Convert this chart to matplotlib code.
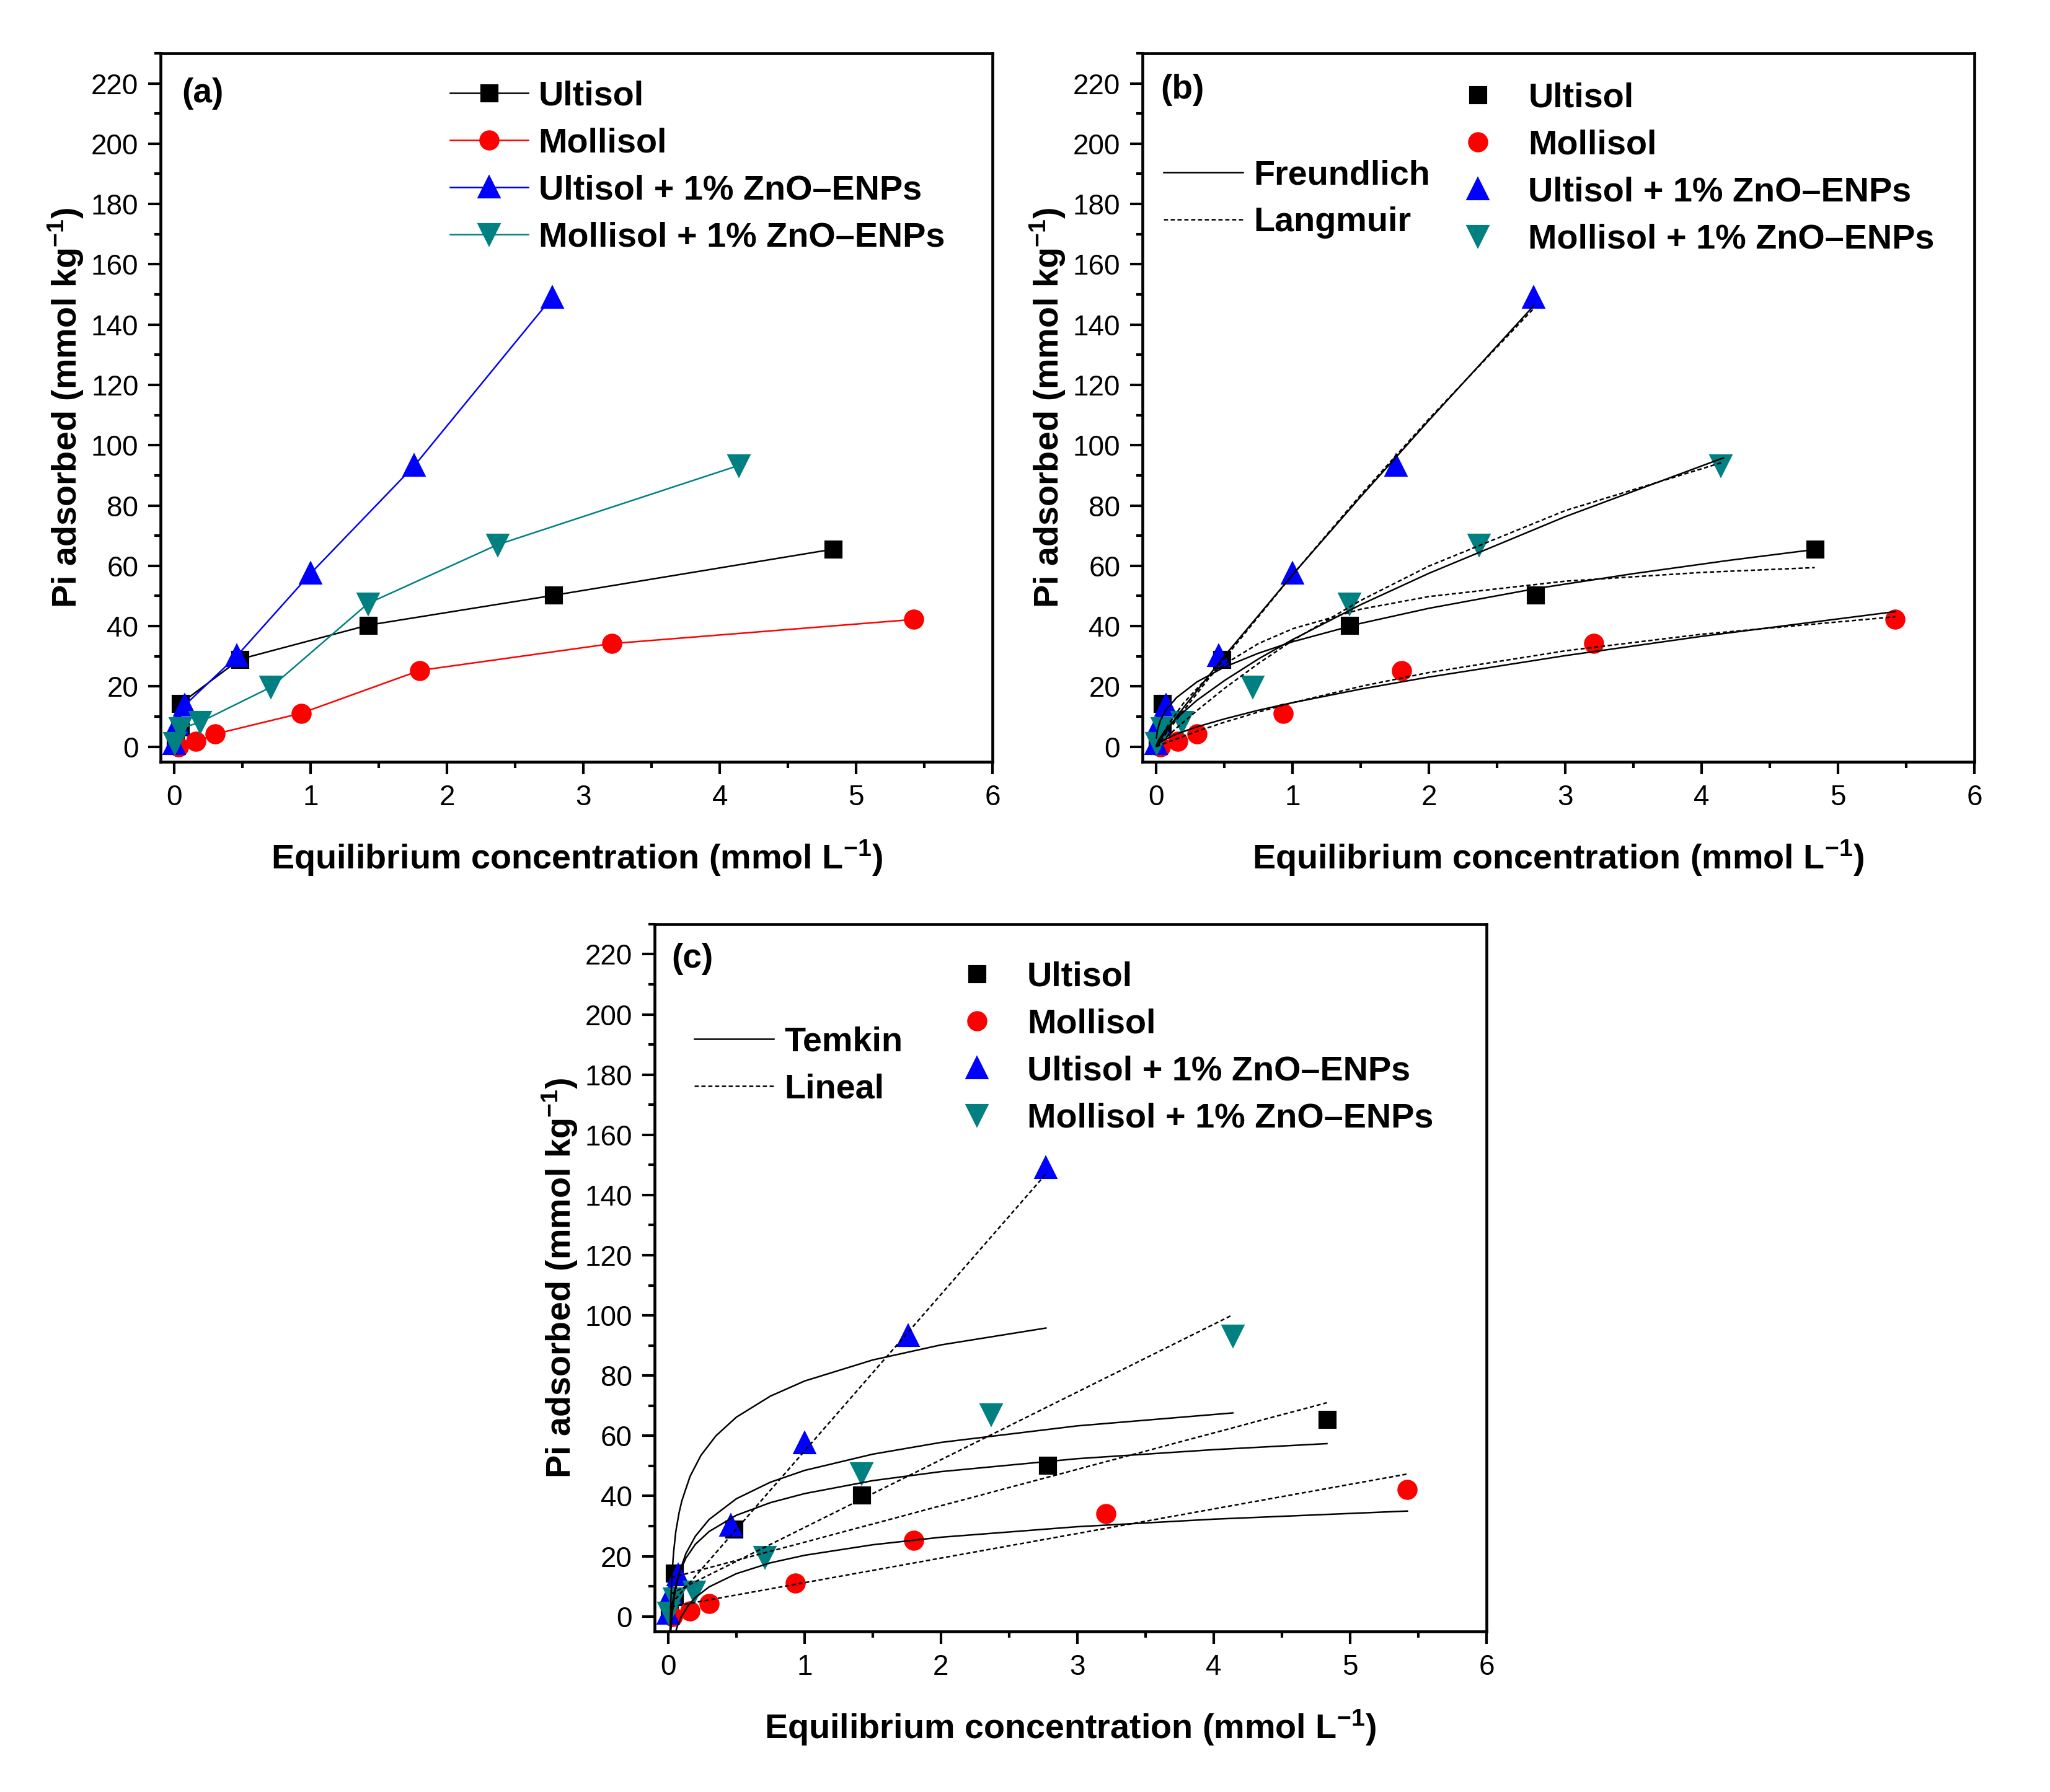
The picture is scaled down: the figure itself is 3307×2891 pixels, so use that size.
import matplotlib
matplotlib.use('Agg')
import matplotlib.pyplot as plt
from matplotlib.lines import Line2D
from matplotlib.ticker import MultipleLocator

plt.rcParams['font.family'] = ['Liberation Sans', 'DejaVu Sans']
plt.rcParams['mathtext.fontset'] = 'custom'
plt.rcParams['mathtext.rm'] = 'Liberation Sans'
plt.rcParams['mathtext.bf'] = 'Liberation Sans:bold'
plt.rcParams['mathtext.default'] = 'bf'

# measured isotherm points (Ce, Qe)
ultisol_x = [0.01, 0.045, 0.045, 0.48, 1.42, 2.78, 4.83]
ultisol_y = [0.5, 6.5, 14.3, 29.0, 40.3, 50.2, 65.5]
mollisol_x = [0.03, 0.16, 0.30, 0.93, 1.80, 3.21, 5.42]
mollisol_y = [0.0, 1.7, 4.2, 11.1, 25.3, 34.2, 42.2]
ultisol_zno_x = [0.0, 0.02, 0.075, 0.46, 1.0, 1.76, 2.77]
ultisol_zno_y = [1.0, 7.5, 13.7, 30.2, 57.5, 93.2, 149.0]
mollisol_zno_x = [0.005, 0.045, 0.19, 0.71, 1.42, 2.37, 4.14]
mollisol_zno_y = [1.2, 6.0, 8.2, 19.8, 47.5, 67.0, 93.3]

# Freundlich curves (b)
fr_x_ultisol = [0.002, 0.01, 0.03, 0.07, 0.15, 0.3, 0.5, 0.75, 1.0, 1.5, 2.0, 2.78, 3.5, 4.2, 4.83]
fr_y_ultisol = [2.9, 5.5, 8.6, 12.0, 16.3, 21.5, 26.4, 31.0, 34.8, 40.9, 45.9, 52.4, 57.4, 61.8, 65.4]
fr_x_mollisol = [0.002, 0.01, 0.03, 0.07, 0.15, 0.3, 0.5, 0.75, 1.0, 1.5, 2.0, 3.0, 4.0, 5.42]
fr_y_mollisol = [0.2, 0.7, 1.4, 2.5, 4.2, 6.6, 9.2, 12.1, 14.6, 19.1, 23.1, 30.2, 36.6, 44.8]
fr_x_ultisol_zno = [0.002, 0.05, 0.1, 0.2, 0.5, 1.0, 1.5, 2.0, 2.77]
fr_y_ultisol_zno = [0.2, 3.6, 6.8, 12.9, 30.0, 57.0, 82.9, 108.2, 146.3]
fr_x_mollisol_zno = [0.002, 0.02, 0.07, 0.15, 0.3, 0.5, 0.75, 1.0, 1.5, 2.0, 3.0, 4.16]
fr_y_mollisol_zno = [0.5, 2.3, 5.6, 9.5, 15.4, 21.9, 29.1, 35.5, 47.1, 57.5, 76.3, 95.8]

# Langmuir curves (b)
la_x_ultisol = [0.002, 0.02, 0.05, 0.1, 0.2, 0.35, 0.5, 0.75, 1.0, 1.5, 2.0, 3.0, 4.0, 4.83]
la_y_ultisol = [0.2, 1.8, 4.3, 8.0, 14.4, 21.7, 27.3, 34.2, 39.1, 45.6, 49.8, 54.9, 57.8, 59.4]
la_x_mollisol = [0.002, 0.05, 0.15, 0.3, 0.5, 0.75, 1.0, 1.5, 2.0, 3.0, 4.0, 5.42]
la_y_mollisol = [0.0, 0.9, 2.6, 5.1, 8.1, 11.5, 14.6, 20.0, 24.6, 31.8, 37.3, 43.1]
la_x_ultisol_zno = [0.002, 0.05, 0.1, 0.2, 0.5, 1.0, 1.5, 2.0, 2.77]
la_y_ultisol_zno = [0.1, 3.0, 6.0, 11.9, 29.2, 57.0, 83.5, 108.7, 145.4]
la_x_mollisol_zno = [0.002, 0.05, 0.15, 0.3, 0.5, 0.75, 1.0, 1.5, 2.0, 3.0, 4.16]
la_y_mollisol_zno = [0.1, 2.1, 6.2, 12.0, 19.3, 27.6, 35.2, 48.5, 59.9, 78.3, 94.4]

# Temkin curves (c)
te_x_ultisol = [0.013, 0.02, 0.03, 0.05, 0.08, 0.13, 0.2, 0.3, 0.5, 0.75, 1.0, 1.5, 2.0, 3.0, 4.0, 4.83]
te_y_ultisol = [-4.8, -0.2, 4.0, 9.4, 14.3, 19.4, 24.0, 28.2, 33.6, 37.8, 40.8, 45.1, 48.1, 52.4, 55.4, 57.4]
te_x_mollisol = [0.055, 0.07, 0.1, 0.15, 0.2, 0.3, 0.5, 0.75, 1.0, 1.5, 2.0, 3.0, 4.0, 5.42]
te_y_mollisol = [-5.0, -2.9, 0.2, 3.8, 6.3, 9.8, 14.2, 17.8, 20.3, 23.8, 26.3, 29.8, 32.3, 35.0]
te_x_ultisol_zno = [0.014, 0.02, 0.03, 0.04, 0.056, 0.08, 0.1, 0.16, 0.24, 0.35, 0.5, 0.75, 1.0, 1.5, 2.0, 2.77]
te_y_ultisol_zno = [-6.0, 6.0, 15.5, 21.5, 28.3, 34.5, 38.4, 46.5, 53.5, 60.0, 66.2, 73.2, 78.2, 85.2, 90.2, 95.8]
te_x_mollisol_zno = [0.019, 0.03, 0.05, 0.08, 0.13, 0.2, 0.3, 0.5, 0.75, 1.0, 1.5, 2.0, 3.0, 4.14]
te_y_mollisol_zno = [-5.0, 1.1, 8.0, 14.4, 20.9, 26.7, 32.2, 39.1, 44.6, 48.5, 53.9, 57.8, 63.3, 67.6]

# linear fits (c), end points
li_x_ultisol = [0.02, 4.83]
li_y_ultisol = [12.8, 71.0]
li_x_mollisol = [0.02, 5.42]
li_y_mollisol = [3.2, 47.3]
li_x_ultisol_zno = [0.02, 2.77]
li_y_ultisol_zno = [4.0, 147.0]
li_x_mollisol_zno = [0.02, 4.14]
li_y_mollisol_zno = [7.5, 100.2]

labels = ['Ultisol', 'Mollisol', 'Ultisol + 1% ZnO\u2013ENPs', 'Mollisol + 1% ZnO\u2013ENPs']
colors = ['black', 'red', 'blue', '#008080']
markers = ['s', 'o', '^', 'v']
msizes = [6, 6.8, 7.5, 7.5]

data_x = [ultisol_x, mollisol_x, ultisol_zno_x, mollisol_zno_x]
data_y = [ultisol_y, mollisol_y, ultisol_zno_y, mollisol_zno_y]

solid_b = [(fr_x_ultisol, fr_y_ultisol), (fr_x_mollisol, fr_y_mollisol),
           (fr_x_ultisol_zno, fr_y_ultisol_zno), (fr_x_mollisol_zno, fr_y_mollisol_zno)]
dash_b = [(la_x_ultisol, la_y_ultisol), (la_x_mollisol, la_y_mollisol),
          (la_x_ultisol_zno, la_y_ultisol_zno), (la_x_mollisol_zno, la_y_mollisol_zno)]
solid_c = [(te_x_ultisol, te_y_ultisol), (te_x_mollisol, te_y_mollisol),
           (te_x_ultisol_zno, te_y_ultisol_zno), (te_x_mollisol_zno, te_y_mollisol_zno)]
dash_c = [(li_x_ultisol, li_y_ultisol), (li_x_mollisol, li_y_mollisol),
          (li_x_ultisol_zno, li_y_ultisol_zno), (li_x_mollisol_zno, li_y_mollisol_zno)]

DASH = (0, (2.7, 1.7))
FIT_LW = 0.6
FS = 13.4
BIG = {'size': FS, 'weight': 'bold'}
SPACING = 0.43


def style_axes(ax, letter, lx, ly):
    ax.set_xlim(-0.1, 6)
    ax.set_ylim(-5, 230)
    ax.xaxis.set_major_locator(MultipleLocator(1))
    ax.xaxis.set_minor_locator(MultipleLocator(0.5))
    ax.yaxis.set_major_locator(MultipleLocator(20))
    ax.yaxis.set_minor_locator(MultipleLocator(10))
    ax.tick_params(which='both', direction='out', top=False, right=False,
                   width=1.0, labelsize=11, pad=3.8)
    ax.tick_params(which='major', length=4.8)
    ax.tick_params(which='minor', length=2.4)
    for s in ax.spines.values():
        s.set_linewidth(1.1)
    ax.set_xlabel('Equilibrium concentration (mmol L$^{-1}$)', fontsize=FS, fontweight='bold')
    ax.set_ylabel('Pi adsorbed (mmol kg$^{-1}$)', fontsize=FS, fontweight='bold')
    ax.xaxis.set_label_coords(0.5, -0.108)
    ax.yaxis.set_label_coords(-0.090, 0.5)
    ax.text(lx, ly, letter, transform=ax.transAxes, fontsize=13.2,
            fontweight='bold', va='center', ha='left')


def marker_legend(ax, x, y):
    hs = [Line2D([], [], ls='none', marker=m, color=c, ms=s)
          for m, c, s in zip(markers, colors, msizes)]
    leg = ax.legend(hs, labels, loc='upper left', bbox_to_anchor=(x, y),
                    frameon=False, prop=BIG, handlelength=1.0, handletextpad=0.95,
                    labelspacing=SPACING, borderpad=0, borderaxespad=0)
    ax.add_artist(leg)


def line_legend(ax, names, x, y):
    hs = [Line2D([], [], color='black', lw=FIT_LW),
          Line2D([], [], color='black', lw=FIT_LW, ls=DASH)]
    ax.legend(hs, names, loc='upper left', bbox_to_anchor=(x, y),
              frameon=False, prop=BIG, handlelength=2.3, handletextpad=0.3,
              labelspacing=SPACING, borderpad=0, borderaxespad=0)


fig = plt.figure(figsize=(3307 / 300, 2891 / 300), dpi=300)
ax1 = fig.add_axes([0.0784, 0.5749, 0.4058, 0.3954])
ax2 = fig.add_axes([0.5573, 0.5749, 0.4058, 0.3954])
ax3 = fig.add_axes([0.3193, 0.0896, 0.4058, 0.3947])

# (a) data joined by lines
hs = []
for x, y, c, m, s in zip(data_x, data_y, colors, markers, msizes):
    pts = sorted(zip(x, y))
    h, = ax1.plot([p[0] for p in pts], [p[1] for p in pts], color=c, lw=0.6,
                  marker=m, ms=s, zorder=3)
    hs.append(h)
ax1.legend(hs, labels, loc='upper left', bbox_to_anchor=(0.348, 0.962),
           frameon=False, prop=BIG, handlelength=2.25, handletextpad=0.3,
           labelspacing=SPACING, borderpad=0, borderaxespad=0)
style_axes(ax1, '(a)', 0.025, 0.943)

# (b) and (c) data with fitted models
for ax, solids, dashes in [(ax2, solid_b, dash_b), (ax3, solid_c, dash_c)]:
    for x, y, c, m, s in zip(data_x, data_y, colors, markers, msizes):
        ax.plot(x, y, ls='none', marker=m, color=c, ms=s, zorder=2)
    for (sx, sy), (dx, dy) in zip(solids, dashes):
        ax.plot(sx, sy, color='black', lw=FIT_LW, zorder=3)
        ax.plot(dx, dy, color='black', lw=FIT_LW, ls=DASH, zorder=3)

marker_legend(ax2, 0.3826, 0.959)
line_legend(ax2, ['Freundlich', 'Langmuir'], 0.0252, 0.850)
style_axes(ax2, '(b)', 0.0217, 0.948)

marker_legend(ax3, 0.3667, 0.948)
line_legend(ax3, ['Temkin', 'Lineal'], 0.0476, 0.856)
style_axes(ax3, '(c)', 0.020, 0.951)

fig.savefig('out.png', dpi=300)
